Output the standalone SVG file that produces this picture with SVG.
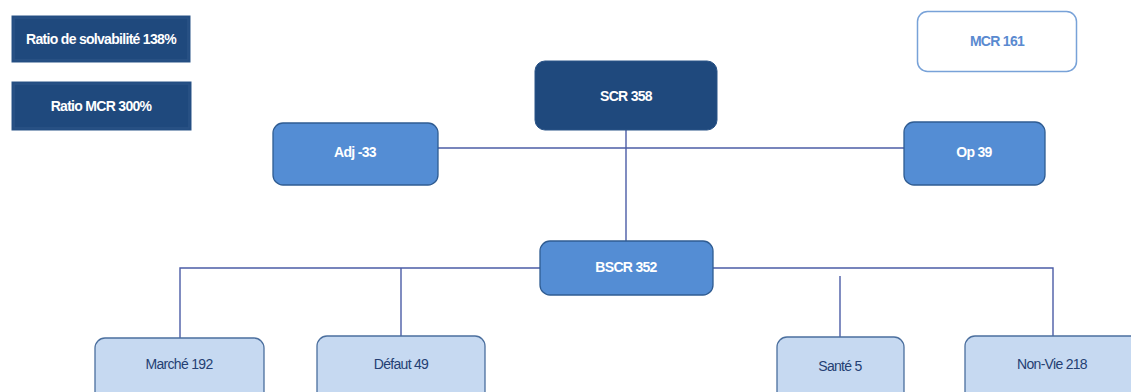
<svg xmlns="http://www.w3.org/2000/svg" width="1131" height="392" viewBox="0 0 1131 392">
<style>
text{font-family:"Liberation Sans",Arial,sans-serif;font-size:14px;text-anchor:middle;dominant-baseline:central;letter-spacing:-0.7px}
.dark{fill:#1f497d;stroke:#2a5488;stroke-width:1}
.bevel{fill:none;stroke:#2b5386;stroke-width:1.5}
.mid{fill:#548dd4;stroke:#2f5c92;stroke-width:1.3}
.light{fill:#c6d9f1;stroke:#4b6f9e;stroke-width:1.3}
.outline{fill:#ffffff;stroke:#78a2d8;stroke-width:1.5}
.wt{fill:#ffffff}
.bt{fill:#243f73}
.lt{fill:#5a8ad0}
.conn{stroke:#4b5ca6;stroke-width:1.4;fill:none}
</style>
<rect width="1131" height="392" fill="#ffffff"/>
<g id="connectors">
<path class="conn" d="M438,148 H904"/>
<path class="conn" d="M626,130 V241"/>
<path class="conn" d="M540,268 H180 V338"/>
<path class="conn" d="M401,268 V337"/>
<path class="conn" d="M713,268 H1053 V336"/>
<path class="conn" d="M840,276 V337"/>
</g>
<g id="ratio-solvabilite">
<rect class="dark" x="12" y="16" width="178" height="46"/>
<rect class="bevel" x="14" y="18" width="174" height="42"/>
<text class="wt" x="101" y="39" font-weight="bold">Ratio de solvabilité 138%</text>
</g>
<g id="ratio-mcr">
<rect class="dark" x="12" y="82" width="179" height="48"/>
<rect class="bevel" x="14" y="84" width="175" height="44"/>
<text class="wt" x="101" y="106" font-weight="bold">Ratio MCR 300%</text>
</g>
<g id="mcr">
<rect class="outline" x="917.5" y="11.5" width="159" height="60" rx="10"/>
<text class="lt" x="997" y="41" font-weight="bold">MCR 161</text>
</g>
<g id="scr">
<rect class="dark" x="535" y="61" width="182" height="69" rx="10"/>
<text class="wt" x="626" y="96" font-weight="bold">SCR 358</text>
</g>
<g id="adj">
<rect class="mid" x="273" y="123" width="165" height="62" rx="10"/>
<text class="wt" x="355" y="152" font-weight="bold">Adj -33</text>
</g>
<g id="op">
<rect class="mid" x="904" y="122" width="141" height="63" rx="10"/>
<text class="wt" x="974" y="152" font-weight="bold">Op 39</text>
</g>
<g id="bscr">
<rect class="mid" x="540" y="241" width="173" height="54" rx="10"/>
<text class="wt" x="626" y="267" font-weight="bold">BSCR 352</text>
</g>
<g id="marche">
<rect class="light" x="95" y="338" width="169" height="70" rx="10"/>
<text class="bt" x="179" y="364">Marché 192</text>
</g>
<g id="defaut">
<rect class="light" x="317" y="336" width="168" height="72" rx="10"/>
<text class="bt" x="401" y="364">Défaut 49</text>
</g>
<g id="sante">
<rect class="light" x="777" y="337" width="127" height="71" rx="10"/>
<text class="bt" x="840" y="366">Santé 5</text>
</g>
<g id="non-vie">
<rect class="light" x="965" y="336" width="180" height="72" rx="10"/>
<text class="bt" x="1052" y="364">Non-Vie 218</text>
</g>
</svg>
